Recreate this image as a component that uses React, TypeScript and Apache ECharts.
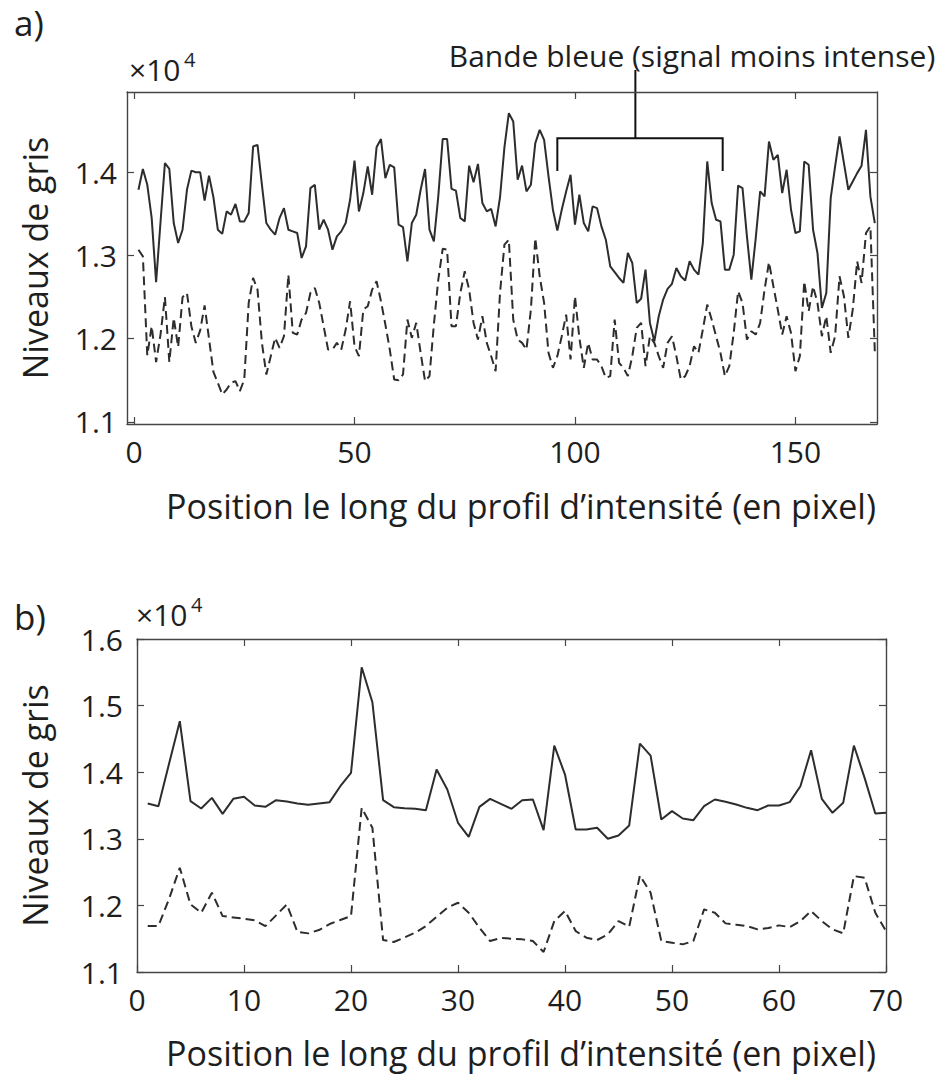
import React, { useEffect, useRef } from "react";
import * as echarts from "echarts";

// ---------- data (grey levels, in units of 10^4) ----------
const aSolid = [
  1.379, 1.404, 1.385, 1.345, 1.268, 1.34, 1.411, 1.404, 1.339, 1.315,
  1.331, 1.379, 1.402, 1.4, 1.4, 1.366, 1.396, 1.37, 1.331, 1.326,
  1.353, 1.349, 1.362, 1.341, 1.341, 1.351, 1.431, 1.433, 1.385, 1.339,
  1.331, 1.325, 1.345, 1.357, 1.331, 1.329, 1.327, 1.297, 1.311, 1.381,
  1.385, 1.331, 1.343, 1.331, 1.307, 1.323, 1.329, 1.339, 1.367, 1.414,
  1.353, 1.375, 1.407, 1.373, 1.43, 1.44, 1.393, 1.409, 1.406, 1.337,
  1.334, 1.293, 1.339, 1.349, 1.379, 1.404, 1.331, 1.317, 1.371, 1.44,
  1.44, 1.38, 1.378, 1.345, 1.341, 1.408, 1.388, 1.41, 1.363, 1.353,
  1.356, 1.335, 1.37, 1.43, 1.471, 1.461, 1.391, 1.408, 1.377, 1.385,
  1.435, 1.451, 1.439, 1.395, 1.355, 1.33, 1.355, 1.377, 1.397, 1.337,
  1.373, 1.339, 1.329, 1.359, 1.357, 1.335, 1.319, 1.287, 1.28, 1.273,
  1.267, 1.303, 1.291, 1.243, 1.248, 1.283, 1.219, 1.197, 1.227, 1.247,
  1.26, 1.266, 1.285, 1.275, 1.27, 1.293, 1.283, 1.277, 1.315, 1.413,
  1.363, 1.343, 1.341, 1.283, 1.283, 1.301, 1.384, 1.381, 1.323, 1.271,
  1.321, 1.377, 1.371, 1.437, 1.415, 1.421, 1.375, 1.403, 1.355, 1.327,
  1.329, 1.413, 1.409, 1.331, 1.303, 1.237, 1.255, 1.369, 1.407, 1.443,
  1.411, 1.379, 1.389, 1.399, 1.408, 1.451, 1.371, 1.339,
];
const aDashed = [
  1.307, 1.299, 1.18, 1.215, 1.172, 1.205, 1.25, 1.172, 1.225, 1.19,
  1.25, 1.255, 1.215, 1.195, 1.21, 1.24, 1.2, 1.16, 1.147, 1.133,
  1.139, 1.147, 1.149, 1.137, 1.151, 1.243, 1.273, 1.259, 1.195, 1.157,
  1.179, 1.201, 1.189, 1.203, 1.277, 1.207, 1.205, 1.223, 1.231, 1.255,
  1.261, 1.243, 1.215, 1.187, 1.187, 1.195, 1.187, 1.211, 1.245, 1.191,
  1.179, 1.235, 1.239, 1.259, 1.269, 1.245, 1.217, 1.187, 1.151, 1.15,
  1.157, 1.223, 1.201, 1.219, 1.183, 1.149, 1.155, 1.217, 1.271, 1.308,
  1.307, 1.215, 1.215, 1.255, 1.281, 1.259, 1.219, 1.199, 1.227, 1.195,
  1.179, 1.161, 1.255, 1.313, 1.319, 1.223, 1.199, 1.195, 1.187, 1.235,
  1.321, 1.275, 1.243, 1.183, 1.165, 1.179, 1.203, 1.229, 1.175, 1.251,
  1.201, 1.165, 1.195, 1.175, 1.175, 1.167, 1.153, 1.155, 1.223, 1.171,
  1.165, 1.155, 1.179, 1.213, 1.219, 1.167, 1.203, 1.195, 1.179, 1.165,
  1.195, 1.203, 1.179, 1.151, 1.155, 1.167, 1.191, 1.183, 1.211, 1.241,
  1.223, 1.203, 1.183, 1.155, 1.167, 1.207, 1.257, 1.243, 1.199, 1.209,
  1.205, 1.219, 1.259, 1.292, 1.263, 1.235, 1.205, 1.227, 1.207, 1.161,
  1.179, 1.269, 1.233, 1.263, 1.243, 1.203, 1.227, 1.183, 1.203, 1.275,
  1.251, 1.201, 1.235, 1.293, 1.267, 1.327, 1.335, 1.185,
];
const bSolid = [
  1.353, 1.349, 1.413, 1.4765, 1.3565, 1.3455, 1.3615, 1.3375, 1.36, 1.363,
  1.35, 1.348, 1.358, 1.356, 1.353, 1.351, 1.353, 1.355, 1.379, 1.399,
  1.5575, 1.505, 1.358, 1.3475, 1.346, 1.345, 1.343, 1.404, 1.374, 1.324,
  1.303, 1.348, 1.36, 1.3525, 1.345, 1.358, 1.359, 1.313, 1.44, 1.3965,
  1.314, 1.314, 1.3165, 1.3, 1.305, 1.32, 1.443, 1.425, 1.329, 1.3415,
  1.3305, 1.328, 1.349, 1.359, 1.3555, 1.3515, 1.3465, 1.343, 1.35, 1.35,
  1.355, 1.379, 1.433, 1.36, 1.339, 1.354, 1.44, 1.3915, 1.338, 1.339,
];
const bDashed = [
  1.169, 1.169, 1.21, 1.2565, 1.2015, 1.189, 1.219, 1.184, 1.182, 1.18,
  1.1775, 1.169, 1.185, 1.2015, 1.16, 1.158, 1.163, 1.172, 1.178, 1.184,
  1.3465, 1.3165, 1.148, 1.145, 1.152, 1.159, 1.169, 1.183, 1.1965, 1.204,
  1.189, 1.1665, 1.1465, 1.151, 1.15, 1.149, 1.1465, 1.13, 1.1765, 1.1915,
  1.1615, 1.1515, 1.148, 1.1565, 1.1765, 1.168, 1.245, 1.219, 1.1465, 1.144,
  1.1415, 1.1465, 1.194, 1.189, 1.173, 1.171, 1.169, 1.164, 1.166, 1.17,
  1.1675, 1.1765, 1.1915, 1.1765, 1.164, 1.158, 1.244, 1.2415, 1.189, 1.1615,
];

// tick labels
const aXTicks = [0, 50, 100, 150];
const aYTicks = [1.1, 1.2, 1.3, 1.4];
const bXTicks = [0, 10, 20, 30, 40, 50, 60, 70];
const bYTicks = [1.1, 1.2, 1.3, 1.4, 1.5, 1.6];

// annotation (blue band) span in pixel-position units
const bandStart = 96;
const bandEnd = 133.5;
const bandStem = 113.7;

const X_NAME = "Position le long du profil d\u2019intensit\u00e9 (en pixel)";
const Y_NAME = "Niveaux de gris";
const BAND_LABEL = "Bande bleue (signal moins intense)";

const FONT = '"Open Sans", "Noto Sans", sans-serif';
const TXT = "#1e1e1e";
const FRAME = "#454545";
const LINE = "#2d2d2d";

const toPairs = (arr: number[]) => arr.map((v, i) => [i + 1, v]);

function xAxes(grid: number, min: number, max: number, ticks: number[], margin: number) {
  const common = {
    gridIndex: grid,
    type: "value",
    min,
    max,
    splitLine: { show: false },
    axisLine: { show: true, onZero: false, lineStyle: { color: FRAME, width: 1.4 } },
    axisTick: { show: true, inside: true, length: 7, customValues: ticks, lineStyle: { color: FRAME, width: 1.2 } },
  };
  return [
    {
      ...common,
      position: "bottom",
      axisLabel: {
        customValues: ticks,
        margin,
        fontFamily: FONT,
        fontSize: 30,
        color: TXT,
        formatter: (v: number) => String(Math.round(v)),
      },
    },
    { ...common, position: "top", axisLabel: { show: false } },
  ];
}

function yAxes(grid: number, min: number, max: number, ticks: number[], margin: number, nameGap: number) {
  const common = {
    gridIndex: grid,
    type: "value",
    min,
    max,
    splitLine: { show: false },
    axisLine: { show: true, onZero: false, lineStyle: { color: FRAME, width: 1.4 } },
    axisTick: { show: true, inside: true, length: 7, customValues: ticks, lineStyle: { color: FRAME, width: 1.2 } },
  };
  return [
    {
      ...common,
      position: "left",
      name: Y_NAME,
      nameLocation: "middle",
      nameGap,
      nameTextStyle: { fontFamily: FONT, fontSize: 34, color: TXT },
      axisLabel: {
        customValues: ticks,
        margin,
        fontFamily: FONT,
        fontSize: 30,
        color: TXT,
        formatter: (v: number) => v.toFixed(1),
      },
    },
    { ...common, position: "right", axisLabel: { show: false } },
  ];
}

export default function App() {
  const ref = useRef<HTMLDivElement>(null);

  useEffect(() => {
    const chart = echarts.init(ref.current!, null, { renderer: "svg", width: 941, height: 1077 });

    const lineSolid = { color: LINE, width: 2 };
    const lineDashed = { color: LINE, width: 2, type: [9, 5] as any };

    chart.setOption({
      animation: false,
      backgroundColor: "#ffffff",
      grid: [
        { left: 127, top: 92, width: 750, height: 332 },
        { left: 137, top: 639, width: 749, height: 333 },
      ],
      xAxis: [
        ...xAxes(0, -1.6, 168.5, aXTicks, 12),
        ...xAxes(1, 0, 70, bXTicks, 12),
      ],
      yAxis: [
        ...yAxes(0, 1.0975, 1.4965, aYTicks, 10, 75),
        ...yAxes(1, 1.1, 1.6, bYTicks, 14, 85),
      ],
      series: [
        { type: "line", name: "a-solid", xAxisIndex: 0, yAxisIndex: 0, data: toPairs(aSolid), showSymbol: false, lineStyle: lineSolid },
        { type: "line", name: "a-dashed", xAxisIndex: 0, yAxisIndex: 0, data: toPairs(aDashed), showSymbol: false, lineStyle: lineDashed },
        { type: "line", name: "b-solid", xAxisIndex: 2, yAxisIndex: 2, data: toPairs(bSolid), showSymbol: false, lineStyle: lineSolid },
        { type: "line", name: "b-dashed", xAxisIndex: 2, yAxisIndex: 2, data: toPairs(bDashed), showSymbol: false, lineStyle: lineDashed },
      ],
    });

    const p = (x: number, y: number) =>
      chart.convertToPixel({ xAxisIndex: 0, yAxisIndex: 0 }, [x, y]) as number[];
    const left = p(bandStart, 1.441);
    const right = p(bandEnd, 1.441);
    const leftLeg = p(bandStart, 1.4015);
    const rightLeg = p(bandEnd, 1.4015);
    const stem = p(bandStem, 1.441);
    const bracketStyle = { stroke: "#111", lineWidth: 2, fill: "none" };

    const xName = (y: number) => ({
      type: "text",
      x: 521,
      y,
      style: {
        text: X_NAME,
        fontFamily: FONT,
        fontSize: 34,
        fill: TXT,
        align: "center",
        verticalAlign: "middle",
      },
    });

    chart.setOption({
      graphic: [
        { type: "text", left: 14, top: 5, style: { text: "a)", fontFamily: FONT, fontSize: 35, fill: TXT } },
        { type: "text", left: 14, top: 599, style: { text: "b)", fontFamily: FONT, fontSize: 35, fill: TXT } },
        { type: "text", left: 129, top: 54, style: { text: "\u00d710", fontFamily: FONT, fontSize: 30, fill: TXT } },
        { type: "text", left: 184, top: 49, style: { text: "4", fontFamily: FONT, fontSize: 20, fill: TXT } },
        { type: "text", left: 136, top: 599, style: { text: "\u00d710", fontFamily: FONT, fontSize: 30, fill: TXT } },
        { type: "text", left: 191, top: 594, style: { text: "4", fontFamily: FONT, fontSize: 20, fill: TXT } },
        xName(506),
        xName(1053),
        {
          type: "polyline",
          shape: { points: [leftLeg, left, right, rightLeg] },
          style: bracketStyle,
        },
        { type: "line", shape: { x1: stem[0], y1: stem[1], x2: stem[0], y2: 70 }, style: bracketStyle },
        {
          type: "text",
          x: 692,
          y: 55,
          style: {
            text: BAND_LABEL,
            fontFamily: FONT,
            fontSize: 30,
            fill: TXT,
            align: "center",
            verticalAlign: "middle",
          },
        },
      ],
    });

    return () => chart.dispose();
  }, []);

  return (
    <div
      ref={ref}
      style={{ position: "absolute", left: 0, top: 0, width: 941, height: 1077, background: "#fff" }}
    />
  );
}
